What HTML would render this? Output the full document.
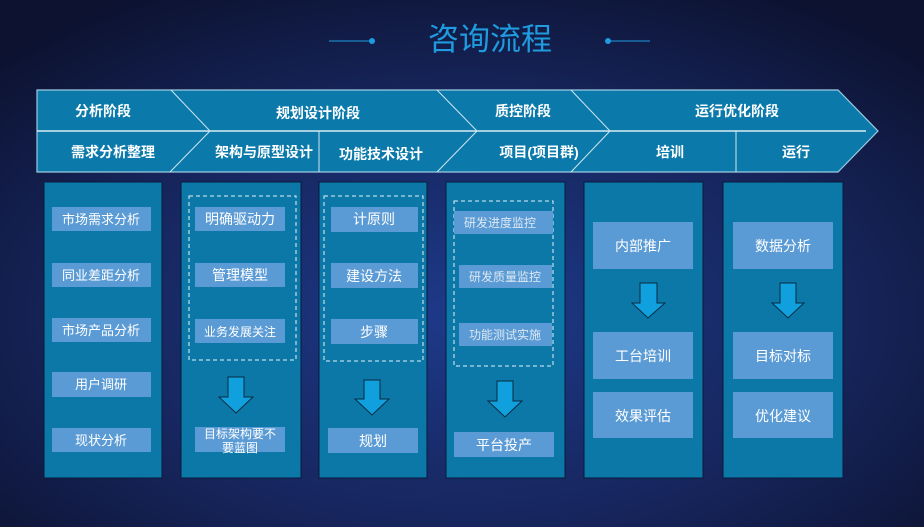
<!DOCTYPE html>
<html><head><meta charset="utf-8"><style>
html,body{margin:0;padding:0;width:924px;height:527px;overflow:hidden;background:#101838}
svg{display:block}
text{font-family:"Liberation Sans","Noto Sans CJK SC",sans-serif;fill:#fff}
</style></head><body>
<svg width="924" height="527" viewBox="0 0 924 527" xmlns="http://www.w3.org/2000/svg">
<defs>
<radialGradient id="bg" cx="0.5" cy="0.6" r="0.7">
<stop offset="0" stop-color="#1d3a8a"/><stop offset="0.6" stop-color="#16245a"/><stop offset="1" stop-color="#0c1230"/>
</radialGradient>
</defs>
<rect width="924" height="527" fill="url(#bg)"/>
<!-- title -->
<text x="490" y="50" text-anchor="middle" font-size="31" style="fill:#1f9be0">咨询流程</text>
<line x1="329" y1="41" x2="372" y2="41" stroke="#1f9be0" stroke-width="1"/>
<circle cx="372" cy="41" r="3" fill="#1f9be0"/>
<line x1="608" y1="41" x2="650" y2="41" stroke="#1f9be0" stroke-width="1"/>
<circle cx="608" cy="41" r="3" fill="#1f9be0"/>
<!-- header -->
<polygon points="37,90 838,90 878,131 838,172 37,172" fill="#0b7aab" stroke="#9ccbe0" stroke-width="1.2"/>
<line x1="37" y1="131" x2="866" y2="131" stroke="#d8ecf5" stroke-width="1.5"/>
<g stroke="#cfe6f2" stroke-width="1" fill="none">
<polyline points="171,90 210,131 170,172"/>
<polyline points="437,90 477,131 437,172"/>
<polyline points="571,90 610,131 571,172"/>
<line x1="319" y1="131" x2="319" y2="172"/>
<line x1="736" y1="131" x2="736" y2="172"/>
</g>
<g font-size="14" font-weight="bold" text-anchor="middle">
<text x="103" y="116">分析阶段</text>
<text x="318" y="118">规划设计阶段</text>
<text x="523" y="116">质控阶段</text>
<text x="737" y="116">运行优化阶段</text>
<text x="113" y="157">需求分析整理</text>
<text x="264" y="157">架构与原型设计</text>
<text x="381" y="159">功能技术设计</text>
<text x="539" y="157">项目(项目群)</text>
<text x="670" y="157">培训</text>
<text x="796" y="157">运行</text>
</g>
<!-- columns -->
<g fill="#0b78a8" stroke="#0a1a3a" stroke-width="1">
<rect x="44" y="182" width="118" height="296"/>
<rect x="181" y="182" width="120" height="296"/>
<rect x="319" y="182" width="108" height="296"/>
<rect x="446" y="182" width="119" height="296"/>
<rect x="584" y="182" width="119" height="296"/>
<rect x="723" y="182" width="120" height="296"/>
</g>
<!-- dashed -->
<g fill="none" stroke="#e8f2f8" stroke-width="1" stroke-dasharray="4,3">
<rect x="189" y="196" width="107" height="164"/>
<rect x="324" y="196" width="99" height="165"/>
<rect x="454" y="201" width="99" height="165"/>
</g>
<!-- inner boxes -->
<g fill="#5b9bd5">
<rect x="52" y="207" width="99" height="24"/><rect x="52" y="263" width="99" height="24"/>
<rect x="52" y="318" width="99" height="24"/><rect x="52" y="372" width="99" height="25"/>
<rect x="52" y="428" width="99" height="24"/>
<rect x="195" y="207" width="90" height="24"/><rect x="195" y="263" width="90" height="24"/>
<rect x="195" y="319" width="90" height="24"/><rect x="195" y="427" width="90" height="25"/>
<rect x="331" y="207" width="87" height="25"/><rect x="331" y="263" width="87" height="25"/>
<rect x="331" y="319" width="87" height="25"/><rect x="328" y="428" width="90" height="25"/>
<rect x="454" y="211" width="99" height="23"/><rect x="459" y="265" width="93" height="23"/>
<rect x="459" y="323" width="93" height="23"/><rect x="454" y="432" width="100" height="25"/>
<rect x="593" y="222" width="100" height="47"/><rect x="593" y="332" width="100" height="47"/>
<rect x="593" y="392" width="100" height="46"/>
<rect x="733" y="222" width="100" height="47"/><rect x="733" y="332" width="100" height="47"/>
<rect x="733" y="392" width="100" height="46"/>
</g>
<!-- arrows -->
<g fill="#0fa0dd" stroke="#0a2a40" stroke-width="1">
<polygon points="228,377 244,377 244,397 253,397 236,413 219,397 228,397"/>
<polygon points="364,380 380,380 380,399 389,399 372,415 355,399 364,399"/>
<polygon points="497,381 513,381 513,401 522,401 505,417 488,401 497,401"/>
<polygon points="640,283 657,283 657,303 665,303 648,318 632,303 640,303"/>
<polygon points="780,283 796,283 796,303 804,303 788,318 772,303 780,303"/>
</g>
<g font-size="13" text-anchor="middle">
<text x="101" y="224">市场需求分析</text>
<text x="101" y="280">同业差距分析</text>
<text x="101" y="335">市场产品分析</text>
<text x="101" y="389">用户调研</text>
<text x="101" y="445">现状分析</text>
<text x="240" y="224" font-size="14">明确驱动力</text>
<text x="240" y="280" font-size="14">管理模型</text>
<text x="240" y="336" font-size="12">业务发展关注</text>
<text x="240" y="438" font-size="12">目标架构要不</text>
<text x="240" y="452" font-size="12">要蓝图</text>
<text x="374" y="224" font-size="14">计原则</text>
<text x="374" y="281" font-size="14">建设方法</text>
<text x="374" y="337" font-size="14">步骤</text>
<text x="373" y="446" font-size="14">规划</text>
<text x="500" y="227" font-size="12" style="fill:#dde8f2">研发进度监控</text>
<text x="505" y="281" font-size="12" style="fill:#dde8f2">研发质量监控</text>
<text x="505" y="339" font-size="12" style="fill:#dde8f2">功能测试实施</text>
<text x="504" y="450" font-size="14">平台投产</text>
<text x="643" y="251" font-size="14">内部推广</text>
<text x="643" y="361" font-size="14">工台培训</text>
<text x="643" y="421" font-size="14">效果评估</text>
<text x="783" y="251" font-size="14">数据分析</text>
<text x="783" y="361" font-size="14">目标对标</text>
<text x="783" y="421" font-size="14">优化建议</text>
</g>
</svg>
</body></html>
